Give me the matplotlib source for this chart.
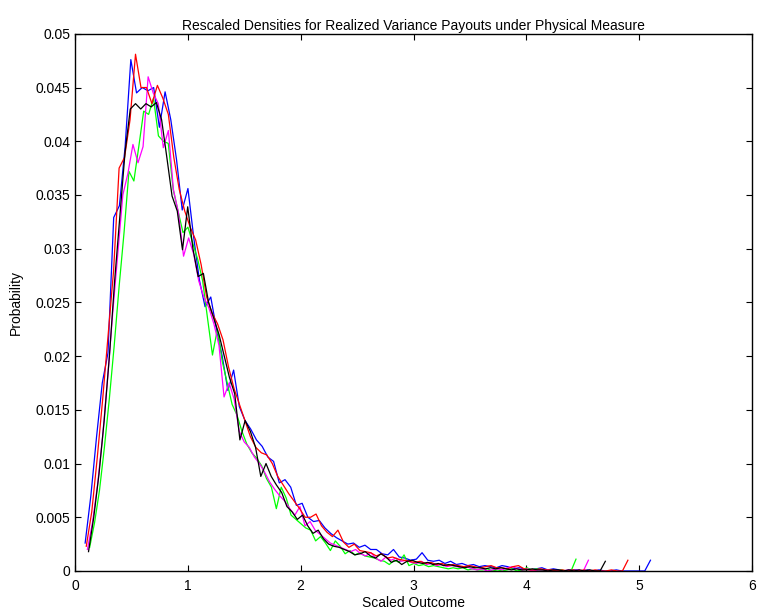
import matplotlib
matplotlib.use('Agg')
import matplotlib.pyplot as plt
import numpy as np
from matplotlib.ticker import FormatStrFormatter

plt.rcParams['font.family'] = ['Liberation Sans', 'DejaVu Sans']

# Histogram densities (in thousandths), 100 bins per run between first and last bin centre
blue_range = (0.09, 5.10)
blue_vals = [2.6, 7.0, 12.5, 17.5, 20.3, 32.9, 34.0, 39.5, 47.6, 44.5,
             45.0, 44.7, 45.0, 41.3, 44.6, 42.0, 38.3, 33.6, 35.6, 31.1,
             27.1, 24.6, 25.5, 22.5, 20.0, 16.8, 18.7, 15.3, 14.0, 13.2,
             12.2, 11.6, 10.6, 10.2, 8.2, 8.5, 7.8, 6.1, 6.3, 5.0,
             4.6, 4.7, 4.0, 3.5, 3.1, 2.8, 2.5, 2.6, 2.2, 2.4,
             2.0, 2.0, 1.6, 1.5, 2.0, 1.3, 1.2, 1.0, 1.1, 1.7,
             1.0, 0.9, 1.0, 0.7, 0.9, 0.6, 0.7, 0.5, 0.6, 0.4,
             0.5, 0.4, 0.3, 0.5, 0.4, 0.2, 0.3, 0.2, 0.1, 0.2,
             0.3, 0.1, 0.2, 0.1, 0.0, 0.1, 0.1, 0.0, 0.1, 0.0,
             0.1, 0.0, 0.0, 0.1, 0.0, 0.0, 0.0, 0.0, 0.0, 1.0]

red_range = (0.10, 4.90)
red_vals = [2.3, 5.5, 10.5, 16.0, 22.0, 28.0, 37.5, 38.5, 42.0, 48.1,
            45.0, 45.0, 43.5, 45.2, 44.0, 42.5, 38.5, 35.5, 33.5, 32.0,
            30.8, 28.5, 25.5, 24.0, 23.0, 21.5, 19.0, 17.0, 15.5, 14.0,
            12.5, 11.5, 11.0, 10.8, 10.0, 8.8, 8.0, 7.2, 6.5, 5.8,
            5.0, 5.0, 5.3, 4.2, 3.6, 3.2, 3.8, 2.7, 2.2, 2.5,
            1.9, 1.8, 1.7, 1.4, 1.6, 1.2, 1.3, 1.1, 1.0, 0.9,
            0.8, 0.9, 0.7, 0.8, 0.6, 0.7, 0.5, 0.6, 0.5, 0.4,
            0.5, 0.4, 0.3, 0.4, 0.5, 0.3, 0.3, 0.2, 0.4, 0.5,
            0.2, 0.1, 0.1, 0.2, 0.1, 0.1, 0.0, 0.1, 0.0, 0.1,
            0.0, 0.1, 0.0, 0.1, 0.0, 0.0, 0.1, 0.0, 0.0, 1.0]

black_range = (0.12, 4.70)
black_vals = [1.8, 5.0, 9.0, 14.0, 20.0, 27.0, 33.0, 39.0, 43.0, 43.5,
              43.0, 43.5, 43.2, 43.6, 42.0, 38.5, 34.9, 33.5, 29.9, 33.9,
              30.0, 27.4, 27.7, 25.0, 23.5, 22.0, 20.0, 18.0, 16.5, 12.2,
              14.0, 13.0, 11.5, 8.8, 10.0, 8.8, 8.0, 7.3, 6.0, 5.5,
              4.8, 5.2, 4.2, 3.5, 3.8, 3.0, 2.5, 2.3, 2.2, 2.0,
              1.8, 1.5, 1.6, 1.8, 1.4, 1.2, 1.6, 1.3, 0.8, 1.0,
              0.6, 0.9, 1.0, 0.8, 0.7, 0.8, 0.6, 0.7, 0.5, 0.6,
              0.5, 0.4, 0.3, 0.4, 0.3, 0.3, 0.2, 0.3, 0.2, 0.3,
              0.2, 0.1, 0.2, 0.1, 0.1, 0.2, 0.1, 0.1, 0.0, 0.1,
              0.1, 0.0, 0.1, 0.0, 0.1, 0.0, 0.1, 0.0, 0.0, 0.9]

magenta_range = (0.11, 4.55)
magenta_vals = [2.0, 4.5, 8.0, 12.5, 18.0, 24.0, 29.5, 35.0, 37.0, 39.7,
                38.0, 39.5, 46.0, 44.5, 43.5, 39.4, 41.0, 35.5, 33.3, 29.3,
                31.0, 29.5, 27.0, 25.5, 24.5, 23.0, 21.0, 16.2, 17.5, 16.0,
                13.0, 12.0, 11.5, 10.6, 10.0, 9.2, 8.3, 7.6, 7.0, 6.5,
                5.8, 5.2, 6.0, 4.2, 4.6, 3.8, 3.4, 3.0, 2.6, 2.4,
                2.2, 2.0, 1.8, 2.0, 1.6, 1.4, 1.7, 1.2, 0.9, 1.3,
                1.0, 1.2, 0.9, 1.0, 0.8, 0.7, 0.9, 0.6, 0.7, 0.5,
                0.6, 0.4, 0.5, 0.4, 0.3, 0.4, 0.2, 0.1, 0.2, 0.0,
                0.1, 0.2, 0.1, 0.3, 0.4, 0.2, 0.1, 0.2, 0.0, 0.1,
                0.1, 0.0, 0.1, 0.0, 0.0, 0.1, 0.0, 0.1, 0.0, 1.0]

green_range = (0.13, 4.44)
green_vals = [2.2, 4.5, 7.5, 11.5, 16.0, 21.0, 26.5, 31.5, 37.2, 36.3,
              39.5, 42.8, 42.5, 44.0, 40.5, 40.0, 39.8, 35.5, 33.5, 31.5,
              32.0, 30.5, 29.0, 27.0, 23.5, 20.1, 22.5, 19.5, 17.5, 15.5,
              14.5, 13.0, 11.8, 11.0, 10.5, 9.8, 8.6, 7.8, 5.8, 7.8,
              6.8, 5.2, 4.8, 4.4, 4.0, 3.8, 2.8, 3.2, 2.6, 1.9,
              2.8, 2.3, 1.6, 1.9, 1.5, 1.7, 1.4, 1.3, 1.2, 1.0,
              0.9, 0.6, 1.0, 0.8, 1.5, 0.5, 0.7, 0.5, 0.6, 0.4,
              0.5, 0.4, 0.3, 0.2, 0.3, 0.2, 0.3, 0.1, 0.2, 0.1,
              0.1, 0.2, 0.0, 0.1, 0.0, 0.1, 0.2, 0.0, 0.1, 0.3,
              0.1, 0.2, 0.1, 0.0, 0.1, 0.0, 0.1, 0.0, 0.0, 1.1]

series = [
    (blue_range, blue_vals, 'blue'),
    (green_range, green_vals, '#00ff00'),
    (magenta_range, magenta_vals, 'magenta'),
    (red_range, red_vals, 'red'),
    (black_range, black_vals, 'black'),
]

fig = plt.figure(figsize=(7.59, 6.16), dpi=100)
ax = fig.add_axes([0.0988, 0.0731, 0.892, 0.872])

for (lo, hi), vals, col in series:
    x = np.linspace(lo, hi, len(vals))
    ax.plot(x, np.array(vals) * 1e-3, color=col, linewidth=0.9)

ax.set_xlim(0, 6)
ax.set_ylim(0, 0.05)
ax.set_xticks(np.arange(0, 7, 1))
ax.set_yticks(np.arange(0, 0.0501, 0.005))
ax.yaxis.set_major_formatter(FormatStrFormatter('%g'))
ax.tick_params(direction='in', top=True, right=True, labelsize=10, length=4)
ax.tick_params(axis='x', pad=6)
for s in ax.spines.values():
    s.set_linewidth(1.0)

ax.set_xlabel('Scaled Outcome', fontsize=10, labelpad=2)
ax.set_ylabel('Probability', fontsize=10, labelpad=9)
ax.set_title('Rescaled Densities for Realized Variance Payouts under Physical Measure', fontsize=10, pad=3)

fig.savefig('out.png', dpi=100)
